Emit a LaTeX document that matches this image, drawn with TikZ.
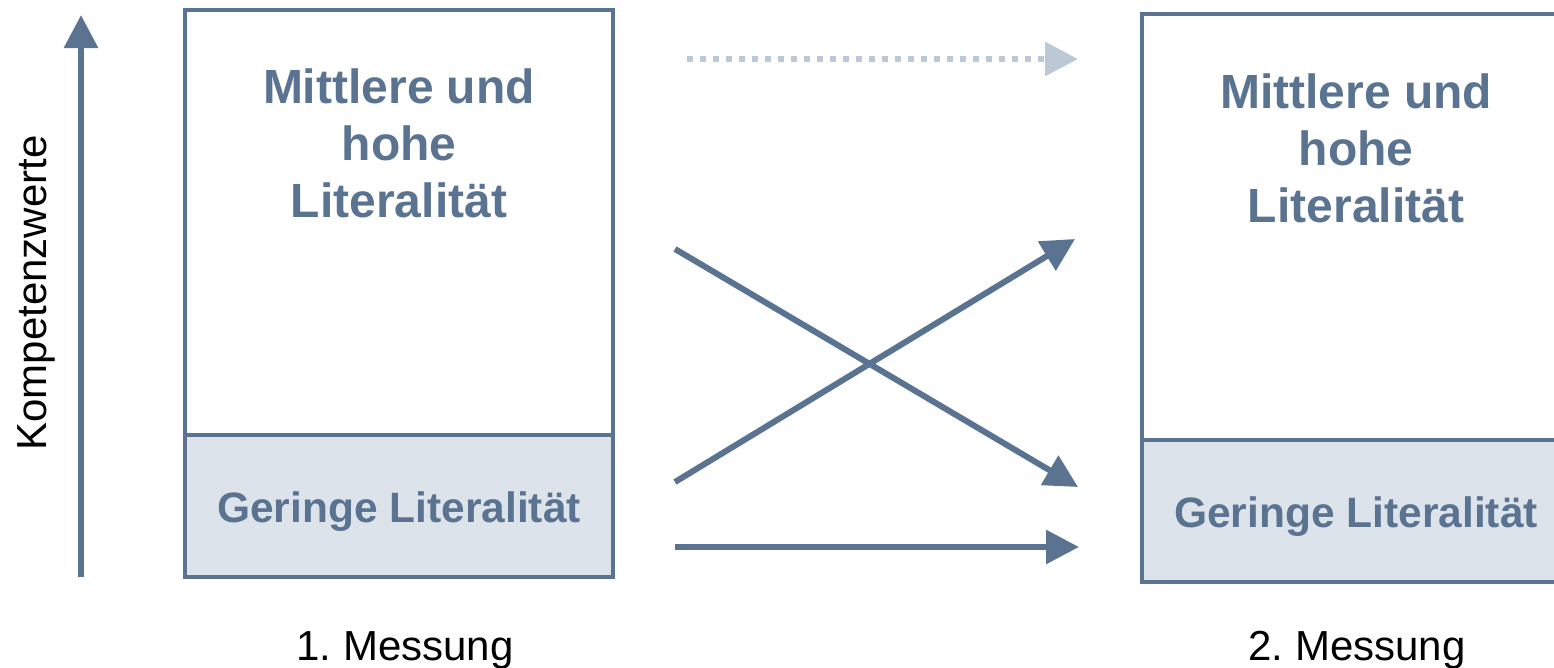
\documentclass[tikz,border=0pt]{standalone}
\usepackage{fontspec}
\setmainfont{Liberation Sans}
\usetikzlibrary{arrows.meta,positioning}
\definecolor{slate}{RGB}{90,115,145}
\definecolor{paleslate}{RGB}{221,227,235}
\definecolor{fadedslate}{RGB}{188,200,214}
\frenchspacing

\tikzset{
  boxline/.style={draw=slate, line width=4pt},
  lowfill/.style={boxline, fill=paleslate},
  flow/.style={draw=slate, line width=6pt, -{Triangle[length=33pt,width=33pt]}},
  faintflow/.style={draw=fadedslate, line width=6pt, dash pattern=on 6pt off 7pt,
    -{Triangle[length=33pt,width=33pt]}},
  hightext/.style={text=slate, align=center, font=\fontsize{48}{57}\selectfont\bfseries},
  lowtext/.style={text=slate, anchor=base, font=\fontsize{42.5}{50}\selectfont\bfseries},
  caption/.style={anchor=base, font=\fontsize{42}{50}\selectfont}
}

\begin{document}
\begin{tikzpicture}[x=1pt, y=-1pt]
  \clip (0,0) rectangle (1554,667);

  % axis
  \coordinate (axisfoot) at (81,577);
  \coordinate (axistip) at (81,15);
  \draw[flow] (axisfoot) -- (axistip);
  \node[rotate=90, font=\fontsize{42}{50}\selectfont] (axislabel) at (36,293) {Kompetenzwerte};

  % first measurement
  \draw[lowfill] (185,435) rectangle (613,577);
  \draw[boxline] (185,10) rectangle (613,435);
  \node[hightext] (highA) at (399,143) {Mittlere und\\hohe\\Literalität};
  \node[lowtext] (lowA) at (399,522) {Geringe Literalität};
  \node[caption] (capA) at (405,660) {1. Messung};

  % second measurement
  \draw[lowfill] (1142,440) rectangle (1570,582);
  \draw[boxline] (1142,14) rectangle (1570,440);
  \node[hightext] (highB) at (1356,148) {Mittlere und\\hohe\\Literalität};
  \node[lowtext] (lowB) at (1356,527) {Geringe Literalität};
  \node[caption] (capB) at (1357,660) {2. Messung};

  % transitions
  \coordinate (stayhighA) at (687,59);
  \coordinate (stayhighB) at (1078,59);
  \coordinate (dropA) at (675,249);
  \coordinate (dropB) at (1078,487);
  \coordinate (riseA) at (675,482);
  \coordinate (riseB) at (1075,239);
  \coordinate (staylowA) at (675,547);
  \coordinate (staylowB) at (1079,547);
  \draw[faintflow] (stayhighA) -- (stayhighB);
  \draw[flow] (dropA) -- (dropB);
  \draw[flow] (riseA) -- (riseB);
  \draw[flow] (staylowA) -- (staylowB);
\end{tikzpicture}
\end{document}
